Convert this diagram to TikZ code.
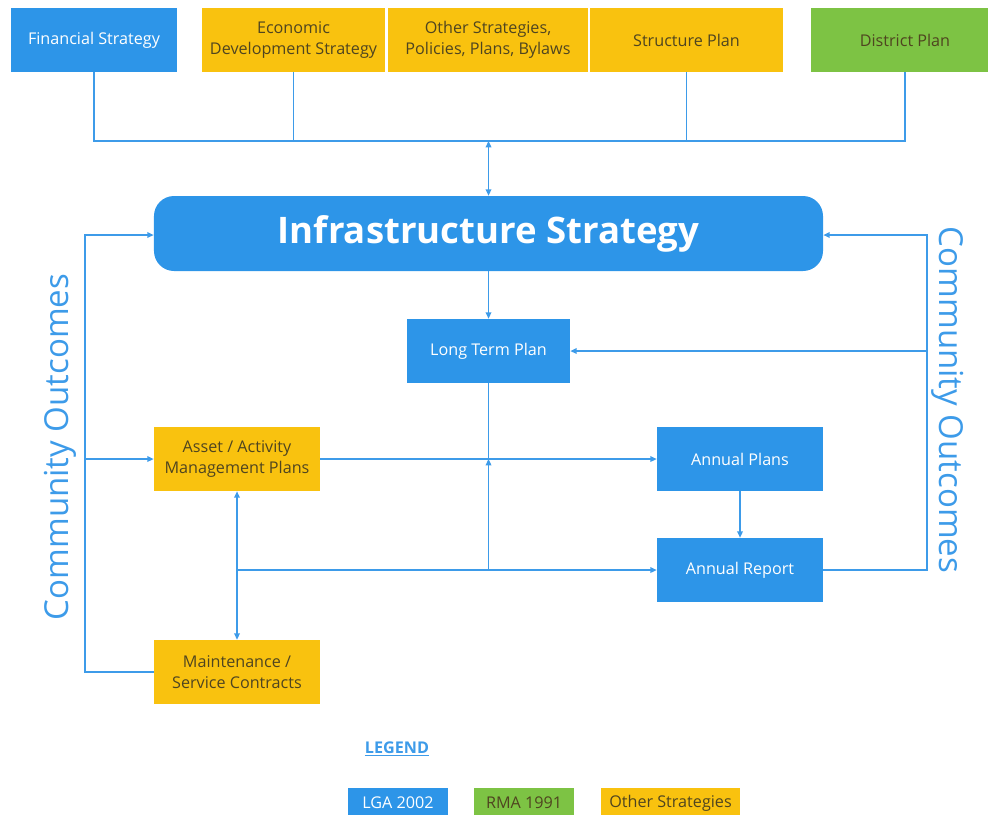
\documentclass[tikz,border=0pt]{standalone}
\usepackage{fontspec}
\setmainfont{Open Sans}
\usetikzlibrary{arrows.meta}
\definecolor{lgablue}{HTML}{2D95E8}
\definecolor{otheryellow}{HTML}{F9C20F}
\definecolor{rmagreen}{HTML}{7DC344}
\definecolor{linkblue}{HTML}{3D9BE9}
\definecolor{darktext}{HTML}{4F4520}

\begin{document}
\begin{tikzpicture}[x=0.25mm,y=-0.25mm,>={Triangle[length=1.6mm,width=1.4mm]},
  box/.style={minimum width=41.5mm,minimum height=16mm,inner sep=0pt,align=center,
    font=\fontsize{11.5}{15}\selectfont},
  lga/.style={box,fill=lgablue,text=white},
  rma/.style={box,fill=rmagreen,text=darktext},
  other/.style={box,fill=otheryellow,text=darktext},
  link/.style={draw=linkblue,line width=0.45mm},
  outcome/.style={text=linkblue,inner sep=0pt,font=\fontsize{23.5}{28}\selectfont}]
\useasboundingbox (0,0) rectangle (988,814);
% strategies feeding in
\node[lga] (fin) at (94,40) {Financial Strategy};
\node[other,minimum width=45.75mm] (eco) at (293.5,40) {Economic\\Development Strategy};
\node[other,minimum width=50mm] (pol) at (488,40) {Other Strategies,\\Policies, Plans, Bylaws};
\node[other,minimum width=48.25mm] (str) at (686.5,40) {Structure Plan};
\node[rma,minimum width=47mm] (dis) at (905,40) {District Plan};
% core
\node[lga,minimum width=167.25mm,minimum height=18.75mm,rounded corners=5mm,
  font=\fontsize{26}{30}\selectfont\bfseries] (infra) at (488.5,233.5) {Infrastructure Strategy};
\node[lga,minimum width=40.75mm] (ltp) at (488.5,351) {Long Term Plan};
\node[other] (amp) at (237,459) {Asset / Activity\\Management Plans};
\node[lga] (ap) at (740,459) {Annual Plans};
\node[lga] (ar) at (740,570) {Annual Report};
\node[other] (msc) at (237,672) {Maintenance /\\Service Contracts};
\node[outcome,rotate=90] (coltxt) at (60,447) {Community Outcomes};
\node[outcome,rotate=-90] (cortxt) at (948,400) {Community Outcomes};
% bus
\coordinate (bus) at (94,141);
\draw[link] (fin.south) |- (dis.south |- bus) -- (dis.south);
\draw[link] (eco.south) -- (eco.south |- bus);
\draw[link] (str.south) -- (str.south |- bus);
\draw[link,<->] (infra.north |- bus) -- (infra.north);
\draw[link,->] (infra.south) -- (ltp.north);
% outcome loops
\coordinate (col) at (85,235);
\coordinate (cor) at (927,235);
\draw[link,->] (msc.west) -| (col) -- (infra.west |- col);
\draw[link,->] (col |- amp.west) -- (amp.west);
\draw[link,->] (ar.east) -| (cor) -- (infra.east |- cor);
\draw[link,->] (cor |- ltp.east) -- (ltp.east);
% plans and reporting
\draw[link,->] (amp.east) -- (ap.west);
\draw[link,->] (ap.south) -- (ar.north);
\draw[link,<->] (amp.south) -- (msc.north);
\draw[link,->] (amp.south |- ar.west) -- (ar.west);
\draw[link] (ltp.south) -- (ltp.south |- ar.west);
\draw[link,->] (ltp.south |- ar.west) -- (ltp.south |- amp.east);
% legend
\node[text=linkblue,font=\fontsize{11.5}{14}\selectfont\bfseries] (leg) at (397,749) {\underline{LEGEND}};
\node[lga,minimum width=25mm,minimum height=7.5mm] (k1) at (398,803) {LGA 2002};
\node[rma,minimum width=25mm,minimum height=7.5mm] (k2) at (524,803) {RMA 1991};
\node[other,minimum width=34.75mm,minimum height=7.5mm] (k3) at (670.5,803) {Other Strategies};
\end{tikzpicture}
\end{document}
